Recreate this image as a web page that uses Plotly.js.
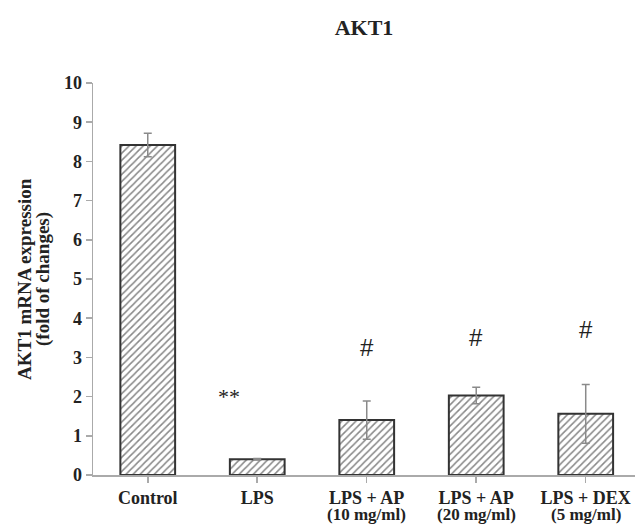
<!DOCTYPE html>
<html>
<head>
<meta charset="utf-8">
<script src="https://cdn.plot.ly/plotly-3.0.1.min.js"></script>
<style>html,body{margin:0;padding:0;background:#fff;}#chart{width:635px;height:525px;}</style>
</head>
<body>
<div id="chart"></div>
<script>
const categories = ["Control", "LPS", "LPS + AP", "LPS + AP", "LPS + DEX"];
const subLabels = ["", "", "(10 mg/ml)", "(20 mg/ml)", "(5 mg/ml)"];
const values = [8.42, 0.40, 1.40, 2.03, 1.56];
const errors = [0.30, 0.02, 0.49, 0.21, 0.75];
const marks = ["", "**", "#", "#", "#"];
const markY = [0, 2.0, 3.25, 3.5, 3.7];
const yTicks = [0,1,2,3,4,5,6,7,8,9,10];
const yTitleLines = ["AKT1 mRNA expression", "(fold of changes)"];

const serif = "Liberation Serif, Times New Roman, serif";
const sans = "Liberation Sans, Arial, sans-serif";

const trace = {
  type: "bar",
  x: categories.map((c, i) => i),
  y: values,
  width: 0.5,
  marker: {
    color: "#ffffff",
    line: {color: "#333333", width: 2},
    pattern: {shape: "/", fgcolor: "#888888", bgcolor: "#ffffff", size: 5, solidity: 0.3}
  },
  error_y: {type: "data", array: errors, visible: true, color: "#8a8a8a", thickness: 1.5, width: 4},
  hoverinfo: "none"
};

const annotations = [];
marks.forEach((m, i) => {
  if (!m) return;
  annotations.push({
    x: i, y: markY[i], xref: "x", yref: "y", text: m, showarrow: false,
    font: {family: m === "**" ? serif : sans, size: m === "**" ? 22 : 24, color: "#222"},
    xshift: m === "**" ? -28 : 0
  });
});
subLabels.forEach((s, i) => {
  if (!s) return;
  annotations.push({
    x: i, y: 0, xref: "x", yref: "paper", text: "<b>" + s + "</b>", showarrow: false,
    yanchor: "middle", yshift: -39, borderpad: 0,
    font: {family: serif, size: 17, color: "#222"}
  });
});
yTitleLines.forEach((t, i) => {
  annotations.push({
    x: 0, y: 0.5, xref: "paper", yref: "paper", text: "<b>" + t + "</b>", showarrow: false,
    textangle: -90, xanchor: "center", yanchor: "middle", xshift: -69 + i * 19,
    font: {family: serif, size: 19, color: "#222"}
  });
});

const layout = {
  width: 635, height: 525,
  margin: {l: 93, r: 0, t: 83, b: 50},
  paper_bgcolor: "#fff", plot_bgcolor: "#fff",
  showlegend: false,
  title: {text: "<b>AKT1</b>", x: 0.5, xref: "paper", xanchor: "center", y: 1 - 27/525, yanchor: "middle",
          font: {family: serif, size: 22, color: "#222"}},
  xaxis: {
    range: [-0.5, 4.45],
    tickvals: categories.map((c, i) => i),
    ticktext: categories.map(c => "<b>" + c + "</b>"),
    tickson: "boundaries",
    ticks: "outside", ticklen: 6, tickcolor: "#aaaaaa", tickwidth: 1.5,
    showline: true, linecolor: "#aaaaaa", linewidth: 1.5,
    showgrid: false, zeroline: false,
    tickfont: {family: serif, size: 18, color: "#222"}
  },
  yaxis: {
    range: [0, 10],
    tickvals: yTicks,
    ticktext: yTicks.map(v => "<b>" + v + "</b>"),
    ticks: "outside", ticklen: 6, tickcolor: "#aaaaaa", tickwidth: 1.5,
    showline: true, linecolor: "#aaaaaa", linewidth: 1.5,
    showgrid: false, zeroline: false,
    tickfont: {family: serif, size: 18, color: "#222"}
  },
  annotations: annotations
};

Plotly.newPlot("chart", [trace], layout, {displayModeBar: false, staticPlot: true});
</script>
</body>
</html>
